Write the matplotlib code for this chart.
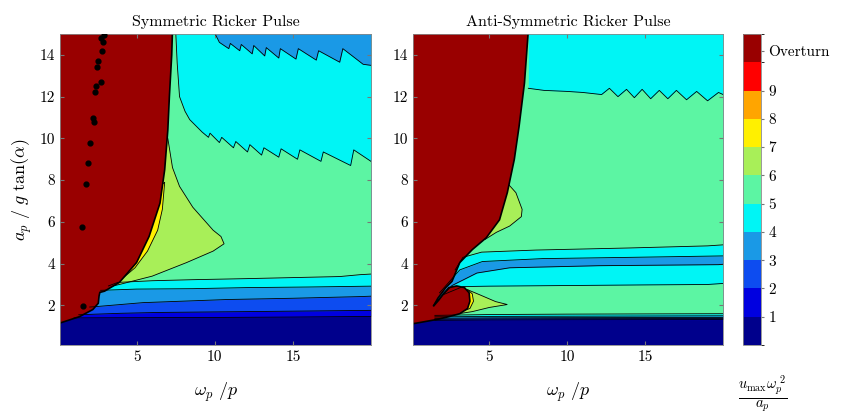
import matplotlib.pyplot as plt
from matplotlib.colors import ListedColormap, BoundaryNorm
from matplotlib.cm import ScalarMappable

plt.rcParams['font.family'] = 'serif'
plt.rcParams['font.serif'] = ['cmr10', 'DejaVu Serif']
plt.rcParams['mathtext.fontset'] = 'cm'
plt.rcParams['axes.unicode_minus'] = False

# one colour per band: 0-1, 1-2, ... 9-10, overturn
level_colors = ['#00008c', '#0000e0', '#0d4cf0', '#1a99e6', '#00f5f5', '#5cf5a3',
                '#a8ef58', '#fff000', '#ffa500', '#ff0000', '#990000']
cbar_ticks = [1, 2, 3, 4, 5, 6, 7, 8, 9, 10.4]
cbar_labels = ['1', '2', '3', '4', '5', '6', '7', '8', '9', 'Overturn']

x_lim = (0.1, 20)
y_lim = (0.1, 15)

# ---------------- symmetric pulse ----------------
# contour curves from bottom to top, band level above each curve
sym_c1_x = [1.0, 5, 10, 15, 20]
sym_c1_y = [1.40, 1.41, 1.42, 1.44, 1.47]
sym_c2_x = [1.3, 4, 6.4, 12, 20]
sym_c2_y = [1.55, 1.62, 1.66, 1.70, 1.76]
sym_c3_x = [2.0, 2.4, 5.4, 10.8, 15, 19.3, 20]
sym_c3_y = [1.92, 1.94, 2.13, 2.28, 2.34, 2.42, 2.44]
sym_c4_x = [2.7, 5, 8.6, 12, 16, 20]
sym_c4_y = [2.72, 2.78, 2.80, 2.85, 2.88, 2.92]
sym_c5_x = [3.2, 3.8, 6, 8.6, 12, 15, 18, 19.3, 20]
sym_c5_y = [2.93, 3.1, 3.18, 3.23, 3.28, 3.33, 3.38, 3.47, 3.5]
sym_c6_x = [7.5, 7.6, 7.75, 8.1, 8.4, 9.2, 9.6, 9.7, 10.3, 10.45, 11.2, 11.35, 12.1, 12.25,
            13.0, 13.15, 14.1, 14.25, 15.3, 15.45, 16.8, 16.95, 18.7, 18.9, 20]
sym_c6_y = [15.2, 13.6, 12.0, 11.3, 10.9, 10.3, 10.05, 10.25, 9.8, 10.05, 9.55, 9.85, 9.35, 9.7,
            9.2, 9.55, 9.1, 9.5, 9.0, 9.45, 8.9, 9.35, 8.7, 9.45, 8.9]
sym_c7_x = [9.9, 10.3, 10.9, 11.0, 11.6, 11.7, 12.4, 12.5, 13.2, 13.3, 14.1, 14.2,
            15.2, 15.35, 16.5, 16.65, 18.0, 18.2, 19.5, 20]
sym_c7_y = [15.2, 14.6, 14.3, 14.55, 14.2, 14.5, 14.05, 14.45, 13.95, 14.35, 13.85, 14.3,
            13.8, 14.3, 13.75, 14.2, 13.65, 14.3, 13.55, 13.5]
sym_curve_levels = [1, 2, 3, 4, 5, 4, 3]

# closed regions drawn over the bands
sym_green_x = [3.3, 3.9, 6.0, 8.2, 9.9, 10.6, 10.4, 9.9, 8.6, 7.75, 7.3, 7.0, 6.5, 5.0]
sym_green_y = [2.9, 3.0, 3.4, 4.05, 4.6, 4.95, 5.3, 5.6, 6.7, 7.7, 8.6, 10.0, 10.0, 5.0]
sym_yellow_x = [3.8, 4.9, 5.7, 6.35, 6.65, 6.8, 6.3, 4.0]
sym_yellow_y = [3.1, 3.8, 4.6, 5.6, 6.6, 7.9, 7.6, 3.2]
sym_over_x = [-0.2, 1.35, 2.2, 2.55, 2.6, 2.65, 2.95, 3.9, 5.0, 5.8, 6.5, 6.8, 7.0, 7.1, 7.25, 7.3, -0.2]
sym_over_y = [1.08, 1.46, 1.8, 2.1, 2.45, 2.62, 2.68, 3.1, 4.05, 5.3, 6.9, 8.5, 10.4, 12.0, 14.0, 15.2, 15.2]
sym_dot_x = [1.55, 1.5, 1.75, 1.9, 2.05, 2.2, 2.25, 2.35, 2.4, 2.75, 2.5, 2.55, 2.8, 2.85, 2.75, 2.9]
sym_dot_y = [1.95, 5.75, 7.8, 8.8, 9.8, 11.0, 10.8, 12.2, 12.5, 12.7, 13.4, 13.7, 14.2, 14.6, 14.8, 14.95]

# ---------------- anti-symmetric pulse ----------------
anti_c1_x = [1.5, 5, 10, 20]
anti_c1_y = [1.28, 1.30, 1.31, 1.32]
anti_c2_x = [1.5, 5, 10, 20]
anti_c2_y = [1.33, 1.35, 1.36, 1.37]
anti_c3_x = [1.5, 5, 10, 20]
anti_c3_y = [1.38, 1.40, 1.41, 1.42]
anti_c4_x = [1.5, 5, 10, 20]
anti_c4_y = [1.45, 1.47, 1.48, 1.50]
anti_c5_x = [1.5, 5, 10, 20]
anti_c5_y = [1.52, 1.56, 1.58, 1.60]
anti_c6_x = [1.4, 2.0, 3.3, 5, 10, 15, 19, 20]
anti_c6_y = [2.0, 2.5, 2.9, 2.92, 2.95, 2.98, 3.0, 3.05]
anti_c7_x = [1.5, 2.6, 4.2, 6.3, 12, 19.7, 20]
anti_c7_y = [2.1, 2.95, 3.55, 3.8, 3.9, 3.95, 3.97]
anti_c8_x = [1.8, 3.1, 4.55, 8.4, 14, 20]
anti_c8_y = [2.6, 3.7, 4.1, 4.24, 4.3, 4.37]
anti_c9_x = [2.8, 3.3, 4.5, 8, 14, 19, 20]
anti_c9_y = [3.7, 4.3, 4.55, 4.65, 4.75, 4.85, 4.9]
anti_c10_x = [7.5, 8.5, 10, 11, 12.2, 12.7, 13.25, 13.8, 14.3, 14.8, 15.35, 15.9, 16.45,
              17.0, 17.65, 18.3, 19.0, 19.7, 20]
anti_c10_y = [12.4, 12.3, 12.25, 12.2, 12.1, 12.4, 12.0, 12.35, 11.95, 12.35, 11.9, 12.3, 11.9,
              12.3, 11.85, 12.25, 11.8, 12.2, 12.1]
anti_curve_levels = [1, 2, 3, 4, 5, 4, 3, 4, 5, 4]

anti_green1_x = [3.3, 3.6, 4.4, 5.4, 6.15, 5.0, 3.9, 3.2, 3.3]
anti_green1_y = [2.75, 2.75, 2.5, 2.18, 2.04, 1.9, 1.7, 1.62, 2.0]
anti_yellow_x = [3.2, 3.75, 3.98, 3.9, 3.6, 3.4]
anti_yellow_y = [1.7, 1.85, 2.2, 2.55, 2.75, 2.2]
anti_green2_x = [4.7, 5.45, 6.3, 7.05, 7.1, 6.7, 6.1, 5.6, 4.5]
anti_green2_y = [5.15, 5.5, 5.8, 6.25, 6.6, 7.4, 7.9, 7.0, 5.3]
anti_over_x = [-0.2, 1.6, 2.4, 3.1, 3.6, 3.75, 3.7, 3.4, 2.9, 2.4, 2.1, 1.75, 1.4,
               1.7, 2.2, 2.6, 3.1, 3.9, 4.8, 5.65, 6.15, 6.6, 6.9, 7.25, 7.5, -0.2]
anti_over_y = [1.08, 1.32, 1.46, 1.6, 1.85, 2.2, 2.6, 2.85, 2.93, 2.85, 2.6, 2.25, 1.95,
               2.35, 2.85, 3.15, 4.05, 4.67, 5.24, 6.1, 7.4, 9.0, 10.55, 12.65, 15.2, 15.2]


def draw_panel(ax, curves, curve_levels, regions, title):
	ax.fill_between(x_lim, y_lim[0], y_lim[1], color=level_colors[0], lw=0)
	for (cx, cy), lev in zip(curves, curve_levels):
		ax.fill_between(cx, cy, 16, color=level_colors[lev], lw=0)
	for cx, cy in curves:
		ax.plot(cx, cy, color='k', lw=0.6)
	for rx, ry, lev in regions:
		lw = 1.2 if lev == 10 else 0.6
		ax.fill(rx, ry, facecolor=level_colors[lev], edgecolor='k', lw=lw)
	ax.set_xlim(x_lim)
	ax.set_ylim(y_lim)
	ax.set_xticks([5, 10, 15])
	ax.set_yticks([2, 4, 6, 8, 10, 12, 14])
	ax.tick_params(direction='in', length=3, color='#777777', labelsize=11,
		top=True, right=True)
	for s in ax.spines.values():
		s.set_color('#888888')
		s.set_linewidth(0.6)
	ax.set_title(title, fontsize=11.5, pad=6)
	ax.set_xlabel(r'$\omega_p\ /p$', fontsize=13, labelpad=12)


fig = plt.figure(figsize=(8.45, 4.18), dpi=100)
ax1 = fig.add_axes([0.071, 0.1746, 0.368, 0.744])
ax2 = fig.add_axes([0.4888, 0.1746, 0.367, 0.744])
cax = fig.add_axes([0.879, 0.1746, 0.0213, 0.744])

sym_curves = [(sym_c1_x, sym_c1_y), (sym_c2_x, sym_c2_y), (sym_c3_x, sym_c3_y),
              (sym_c4_x, sym_c4_y), (sym_c5_x, sym_c5_y), (sym_c6_x, sym_c6_y),
              (sym_c7_x, sym_c7_y)]
sym_regions = [(sym_green_x, sym_green_y, 6), (sym_yellow_x, sym_yellow_y, 7),
               (sym_over_x, sym_over_y, 10)]
draw_panel(ax1, sym_curves, sym_curve_levels, sym_regions, 'Symmetric Ricker Pulse')
ax1.scatter(sym_dot_x, sym_dot_y, s=12, color='k', zorder=5)
ax1.set_ylabel(r'$a_p\ /\ g\ \mathrm{tan}(\alpha)$', fontsize=13)

anti_curves = [(anti_c1_x, anti_c1_y), (anti_c2_x, anti_c2_y), (anti_c3_x, anti_c3_y),
               (anti_c4_x, anti_c4_y), (anti_c5_x, anti_c5_y), (anti_c6_x, anti_c6_y),
               (anti_c7_x, anti_c7_y), (anti_c8_x, anti_c8_y), (anti_c9_x, anti_c9_y),
               (anti_c10_x, anti_c10_y)]
anti_regions = [(anti_green1_x, anti_green1_y, 6), (anti_yellow_x, anti_yellow_y, 7),
                (anti_green2_x, anti_green2_y, 6), (anti_over_x, anti_over_y, 10)]
draw_panel(ax2, anti_curves, anti_curve_levels, anti_regions, 'Anti-Symmetric Ricker Pulse')

cmap = ListedColormap(level_colors)
norm = BoundaryNorm(list(range(12)), cmap.N)
cb = fig.colorbar(ScalarMappable(norm=norm, cmap=cmap), cax=cax)
cb.set_ticks(cbar_ticks)
cb.set_ticklabels(cbar_labels)
cb.ax.tick_params(length=2, color='#777777', labelsize=11)
cb.outline.set_edgecolor('#888888')
cb.outline.set_linewidth(0.6)
fig.text(0.902, 0.058, r'$\frac{u_{\mathrm{max}}\omega_p^{\ 2}}{a_p}$', fontsize=15,
	ha='center', va='center')

fig.savefig('out.png', dpi=100)
